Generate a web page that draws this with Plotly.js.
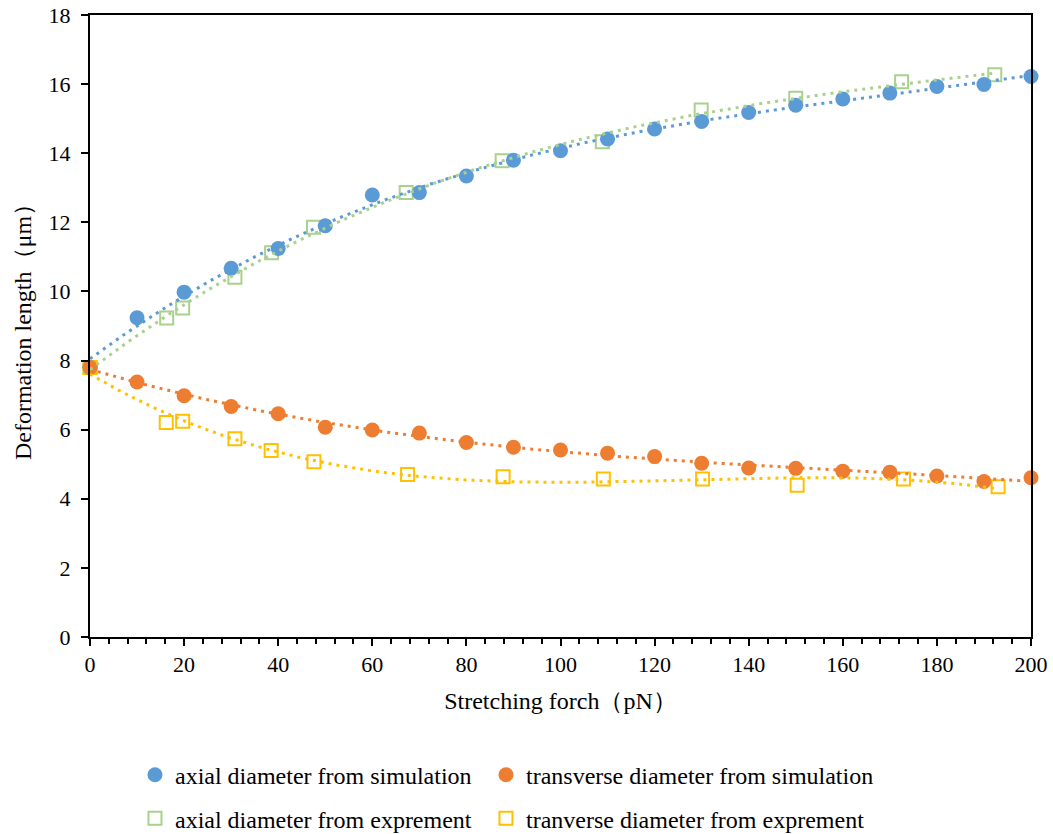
<!DOCTYPE html>
<html>
<head>
<meta charset="utf-8">
<script src="https://cdn.plot.ly/plotly-3.0.1.min.js"></script>
<style>
  html, body { margin: 0; padding: 0; background: #fff; }
  #chart { width: 1053px; height: 834px; }
</style>
</head>
<body>
<div id="chart"></div>
<script>
// Simulation: stretching force (pN) and measured diameters (μm)
const forceSim = [0, 10, 20, 30, 40, 50, 60, 70, 80, 90, 100, 110, 120, 130, 140, 150, 160, 170, 180, 190, 200];
const axialSim = [7.80, 9.24, 9.98, 10.67, 11.24, 11.90, 12.79, 12.86, 13.34, 13.80, 14.07, 14.41, 14.70, 14.92, 15.18, 15.39, 15.57, 15.74, 15.93, 15.99, 16.22];
const transSim = [7.80, 7.38, 6.98, 6.67, 6.46, 6.07, 5.99, 5.90, 5.63, 5.49, 5.41, 5.32, 5.22, 5.03, 4.89, 4.88, 4.80, 4.77, 4.66, 4.50, 4.61];

// Experiment: axial diameter
const forceExpAxial = [0, 16.3, 19.7, 30.8, 38.6, 47.5, 67.2, 87.6, 108.9, 129.9, 150.0, 172.5, 192.3];
const axialExp = [7.80, 9.23, 9.52, 10.41, 11.12, 11.86, 12.86, 13.78, 14.33, 15.25, 15.59, 16.07, 16.27];

// Experiment: transverse diameter
const forceExpTrans = [0, 16.2, 19.7, 30.8, 38.5, 47.6, 67.5, 87.8, 109.1, 130.2, 150.3, 172.9, 193.0];
const transExp = [7.80, 6.21, 6.24, 5.74, 5.40, 5.07, 4.70, 4.64, 4.57, 4.57, 4.39, 4.57, 4.35];

const legendNames = [
  'axial diameter from simulation',
  'transverse diameter from simulation',
  'axial diameter from exprement',
  'tranverse diameter from exprement'
];

const BLUE = '#5B9BD5', ORANGE = '#ED7D31', GREEN = '#A9D18E', YELLOW = '#FFC000';
const FONT = 'Liberation Serif';

// Least-squares polynomial trendline (x scaled for conditioning)
function polyFit(xs, ys, deg) {
  const s = 100;
  const n = deg + 1;
  const A = Array.from({length: n}, () => new Array(n + 1).fill(0));
  for (let k = 0; k < xs.length; k++) {
    const x = xs[k] / s;
    for (let i = 0; i < n; i++) {
      for (let j = 0; j < n; j++) A[i][j] += Math.pow(x, i + j);
      A[i][n] += ys[k] * Math.pow(x, i);
    }
  }
  for (let c = 0; c < n; c++) {
    let p = c;
    for (let r = c + 1; r < n; r++) if (Math.abs(A[r][c]) > Math.abs(A[p][c])) p = r;
    [A[c], A[p]] = [A[p], A[c]];
    for (let r = 0; r < n; r++) {
      if (r === c) continue;
      const f = A[r][c] / A[c][c];
      for (let k = c; k <= n; k++) A[r][k] -= f * A[c][k];
    }
  }
  const coef = A.map((row, i) => row[n] / row[i]);
  return x => coef.reduce((acc, c, i) => acc + c * Math.pow(x / s, i), 0);
}

function trend(xs, ys, color, deg) {
  const f = polyFit(xs, ys, deg);
  const x0 = Math.min(...xs), x1 = Math.max(...xs);
  const tx = [], ty = [];
  for (let i = 0; i <= 200; i++) {
    const x = x0 + (x1 - x0) * i / 200;
    tx.push(x); ty.push(f(x));
  }
  return {
    x: tx, y: ty, type: 'scatter', mode: 'lines', showlegend: false, hoverinfo: 'skip',
    line: {color: color, width: 3, dash: '3px,5px'}
  };
}

const circle = (xs, ys, color, name, legend) => ({
  x: xs, y: ys, type: 'scatter', mode: 'markers', name: name, legend: legend,
  marker: {symbol: 'circle', size: 15, color: color, line: {width: 0}},
  cliponaxis: false
});
const square = (xs, ys, color, name, legend) => ({
  x: xs, y: ys, type: 'scatter', mode: 'markers', name: name, legend: legend,
  marker: {symbol: 'square-open', size: 13, color: color, line: {width: 2, color: color}},
  cliponaxis: false
});

const data = [
  square(forceExpAxial, axialExp, GREEN, legendNames[2], 'legend3'),
  square(forceExpTrans, transExp, YELLOW, legendNames[3], 'legend4'),
  circle(forceSim, axialSim, BLUE, legendNames[0], 'legend'),
  circle(forceSim, transSim, ORANGE, legendNames[1], 'legend2'),
  trend(forceSim, axialSim, BLUE, 3),
  trend(forceSim, transSim, ORANGE, 3),
  trend(forceExpAxial, axialExp, GREEN, 3),
  trend(forceExpTrans, transExp, YELLOW, 3)
];

// One legend box per entry: two columns, two rows below the plot
function legendAt(x, y) {
  return {
    x: x, y: y, xanchor: 'left', yanchor: 'middle', orientation: 'h',
    font: {family: FONT, size: 24, color: '#000'},
    itemsizing: 'trace', bgcolor: 'rgba(0,0,0,0)', borderwidth: 0
  };
}

const layout = {
  width: 1053, height: 834,
  margin: {l: 90, r: 22, t: 15, b: 197, autoexpand: false},
  paper_bgcolor: '#fff', plot_bgcolor: '#fff',
  font: {family: FONT, size: 22, color: '#000'},
  showlegend: true,
  legend: legendAt(0.0478, -0.222),
  legend2: legendAt(0.4208, -0.222),
  legend3: legendAt(0.0478, -0.292),
  legend4: legendAt(0.4208, -0.292),
  xaxis: {
    range: [0, 200], dtick: 20, tick0: 0,
    showgrid: false, zeroline: false,
    showline: true, linecolor: '#000', linewidth: 2, mirror: true,
    ticks: 'outside', ticklen: 7, tickwidth: 2, tickcolor: '#000',
    minor: {dtick: 4, ticks: 'outside', ticklen: 5, tickwidth: 2, tickcolor: '#000', showgrid: false},
    tickfont: {family: FONT, size: 22, color: '#000'},
    title: {text: 'Stretching forch（pN）', font: {family: FONT, size: 24, color: '#000'}, standoff: 16}
  },
  yaxis: {
    range: [0, 18], dtick: 2, tick0: 0,
    showgrid: false, zeroline: false,
    showline: true, linecolor: '#000', linewidth: 2, mirror: true,
    ticks: 'outside', ticklen: 7, tickwidth: 2, tickcolor: '#000',
    ticklabelstandoff: 6,
    tickfont: {family: FONT, size: 22, color: '#000'},
    title: {text: 'Deformation length（μm）', font: {family: FONT, size: 24, color: '#000'}, standoff: 10}
  }
};

Plotly.newPlot('chart', data, layout, {displayModeBar: false, staticPlot: true});
</script>
</body>
</html>
